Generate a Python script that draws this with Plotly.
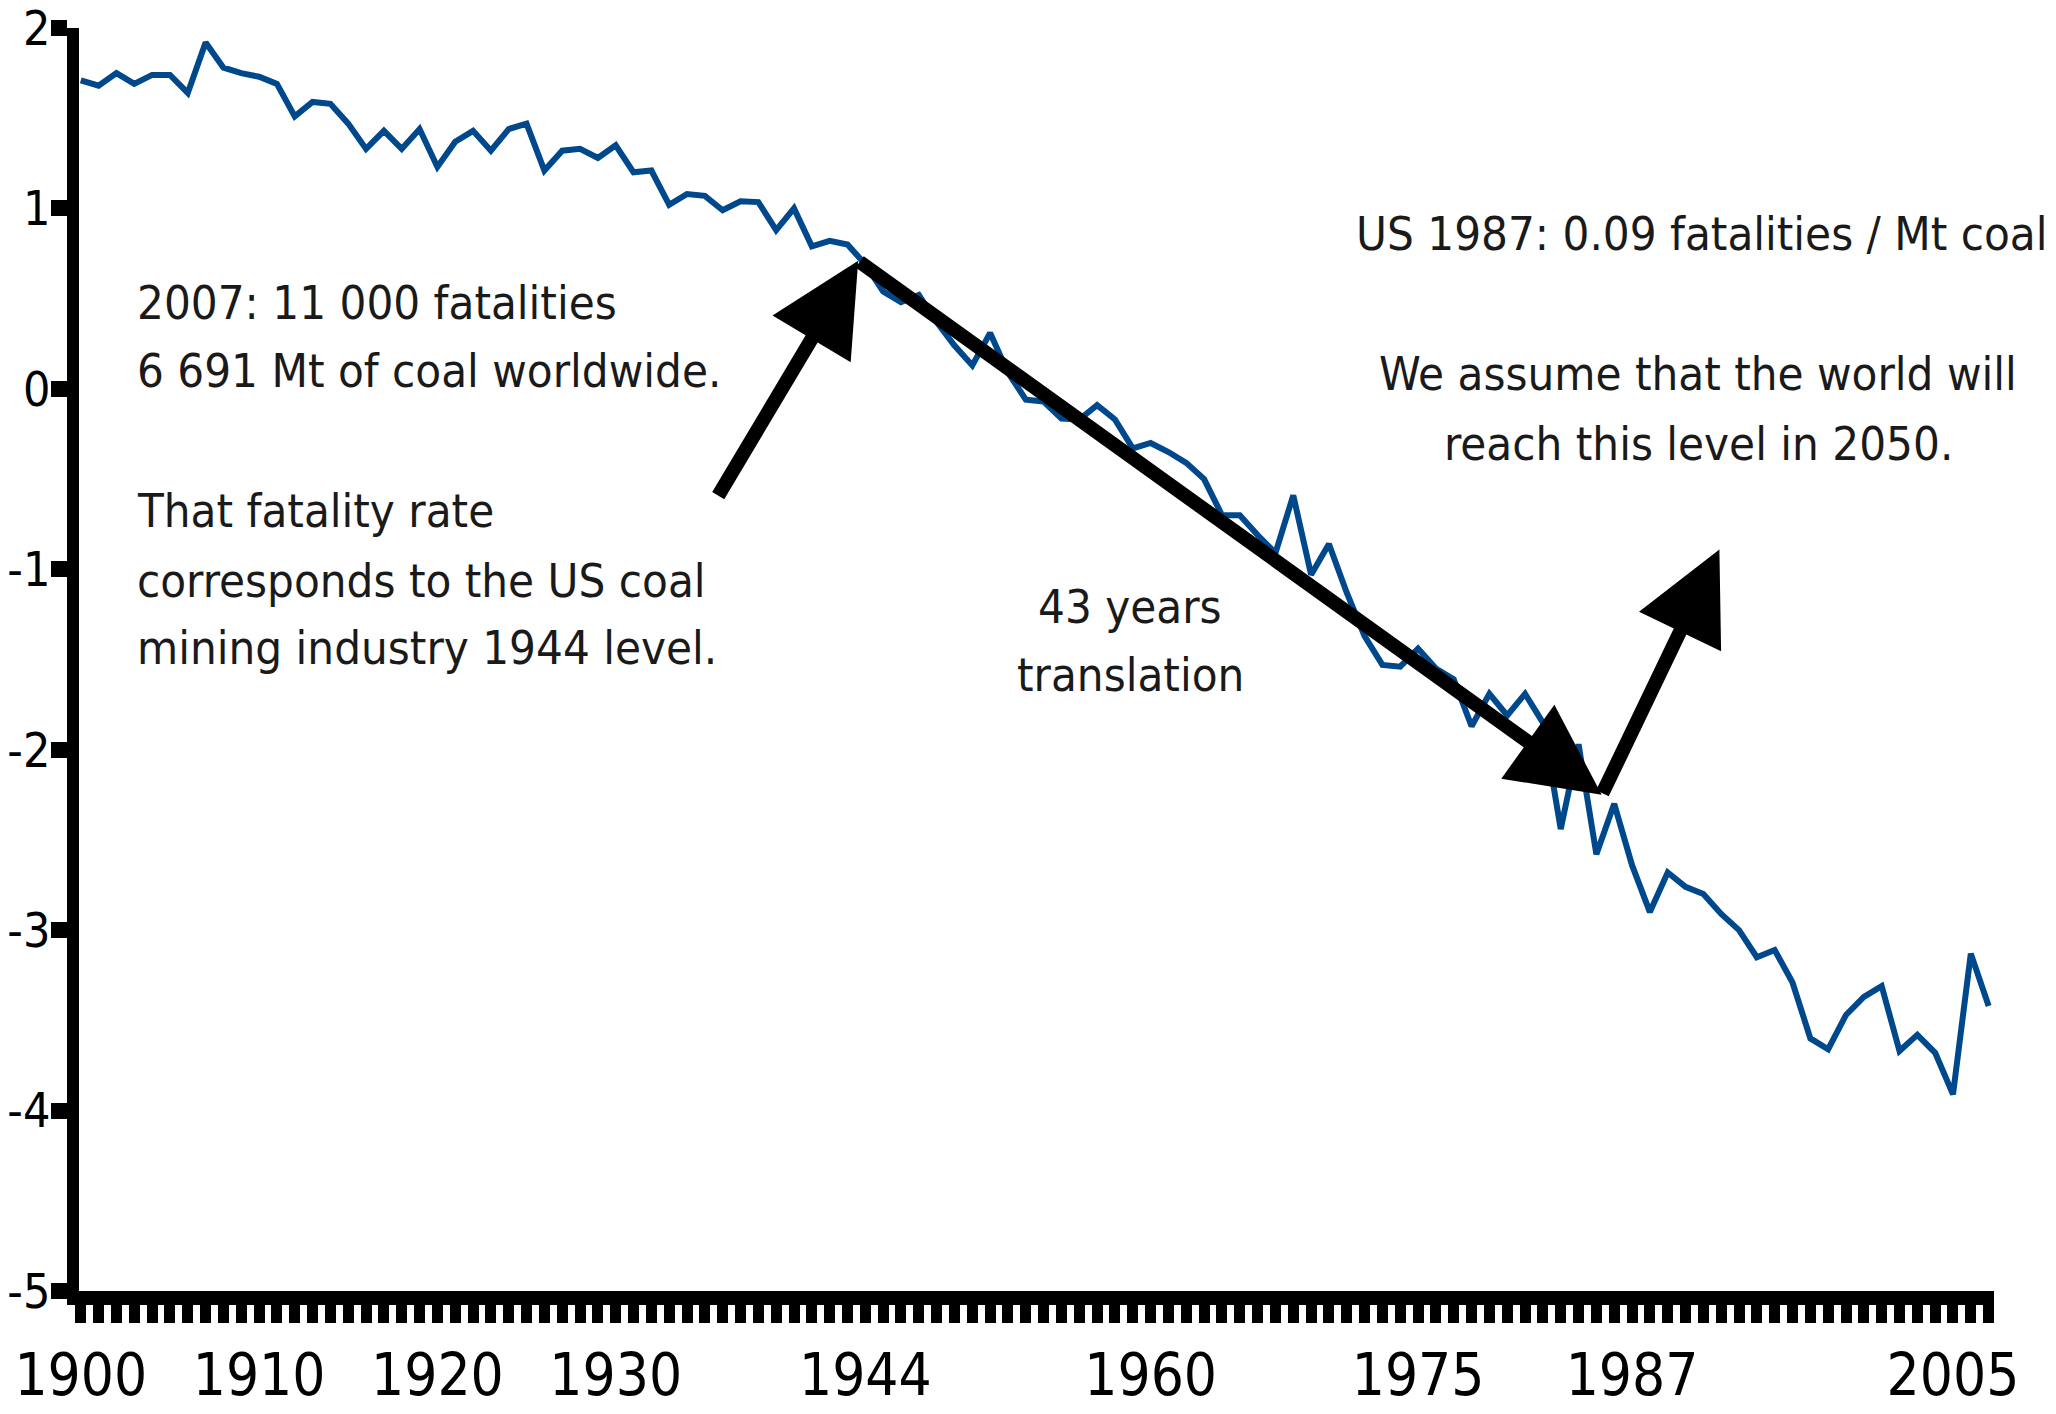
import plotly.graph_objects as go

years = list(range(1900, 2008))
log_rate = [
    1.71, 1.68, 1.75, 1.69, 1.74, 1.74, 1.64, 1.92, 1.78, 1.75,
    1.73, 1.69, 1.51, 1.59, 1.58, 1.47, 1.33, 1.43, 1.33, 1.44,
    1.23, 1.37, 1.43, 1.32, 1.44, 1.47, 1.21, 1.32, 1.33, 1.28,
    1.35, 1.20, 1.21, 1.02, 1.08, 1.07, 0.99, 1.04, 1.035, 0.88,
    1.00, 0.79, 0.82, 0.80, 0.69, 0.54, 0.48, 0.52, 0.37, 0.24,
    0.13, 0.31, 0.09, -0.06, -0.07, -0.165, -0.17, -0.09, -0.17, -0.33,
    -0.30, -0.35, -0.41, -0.50, -0.70, -0.70, -0.81, -0.91, -0.59, -1.03,
    -0.86, -1.13, -1.37, -1.53, -1.54, -1.44, -1.55, -1.61, -1.87, -1.69,
    -1.81, -1.69, -1.85, -2.44, -1.97, -2.58, -2.30, -2.64, -2.90, -2.68,
    -2.76, -2.80, -2.91, -3.00, -3.15, -3.11, -3.29, -3.60, -3.66, -3.47,
    -3.37, -3.31, -3.67, -3.58, -3.68, -3.91, -3.13, -3.42,
]
labelled_years = [1900, 1910, 1920, 1930, 1944, 1960, 1975, 1987, 2005]
y_ticks = [-5, -4, -3, -2, -1, 0, 1, 2]

# arrows (data coordinates): (tail_x, tail_y, head_x, head_y)
arrows = [
    (1935.7, -0.60, 1943.6, 0.71),
    (1943.6, 0.71, 1985.3, -2.25),
    (1985.3, -2.25, 1991.9, -0.89),
]

FONT = "DejaVu Sans Condensed, Liberation Sans Narrow, Arial Narrow, sans-serif"
OFF = 8  # default body margin of the html page
W, H = 2056 - OFF, 1414 - OFF
L, R, T, B = 71, 62, 20, 123
PW, PH = W - L - R, H - T - B


def px(x):
    return (x - OFF - L) / PW


def py(y):
    return 1 - (y - OFF - T) / PH


fig = go.Figure()
fig.add_trace(go.Scatter(
    x=years, y=log_rate, mode="lines",
    line=dict(color="#00488C", width=6),
    showlegend=False, hoverinfo="skip",
))

annotations = []
for tx, ty, hx, hy in arrows:
    annotations.append(dict(
        x=hx, y=hy, ax=tx, ay=ty, xref="x", yref="y", axref="x", ayref="y",
        text="", showarrow=True, arrowhead=2, arrowsize=1.3, arrowwidth=14,
        arrowcolor="#000000", standoff=0,
    ))

text_font = dict(family=FONT, size=47, color="#1a1a1a")
# (page pixel x, page pixel y centre, anchor, text) -- one entry per line
texts = [
    (136, 302, "left", "2007: 11 000 fatalities"),
    (136, 371, "left", "6 691 Mt of coal worldwide."),
    (136, 510, "left", "That fatality rate"),
    (136, 580, "left", "corresponds to the US coal"),
    (136, 648, "left", "mining industry 1944 level."),
    (1130, 606, "center", "43 years"),
    (1130, 674, "center", "translation"),
    (2049, 233, "right", "US 1987: 0.09 fatalities / Mt coal"),
    (1698, 374, "center", "We assume that the world will"),
    (1698, 443, "center", "reach this level in 2050."),
]
for x, y, anchor, t in texts:
    annotations.append(dict(
        x=px(x), y=py(y), xref="paper", yref="paper", xanchor=anchor, yanchor="middle",
        align=anchor, text=t, showarrow=False, font=text_font, borderpad=0,
    ))

tick_text = [str(y) if y in labelled_years else "" for y in years]

fig.update_layout(
    width=W, height=H,
    margin=dict(l=L, r=R, t=T, b=B, autoexpand=False),
    paper_bgcolor="white", plot_bgcolor="white",
    annotations=annotations,
    xaxis=dict(
        range=[1899.9, 2007.3], tickmode="array", tickvals=years, ticktext=tick_text,
        showgrid=False, zeroline=False, showline=True, linecolor="black", linewidth=14,
        ticks="outside", ticklen=18, tickwidth=11, tickcolor="black",
        tickfont=dict(family=FONT, size=58, color="black"), tickangle=0,
        ticklabelstandoff=2, automargin=False, ticklabeloverflow="allow",
    ),
    yaxis=dict(
        range=[-5, 2], tickmode="array", tickvals=y_ticks, ticktext=[str(v) for v in y_ticks],
        showgrid=False, zeroline=False, showline=True, linecolor="black", linewidth=12,
        ticks="outside", ticklen=16, tickwidth=16, tickcolor="black",
        tickfont=dict(family=FONT, size=48, color="black"),
        ticklabelstandoff=-9, automargin=False, ticklabeloverflow="allow",
    ),
)

fig.write_html("out.html")
